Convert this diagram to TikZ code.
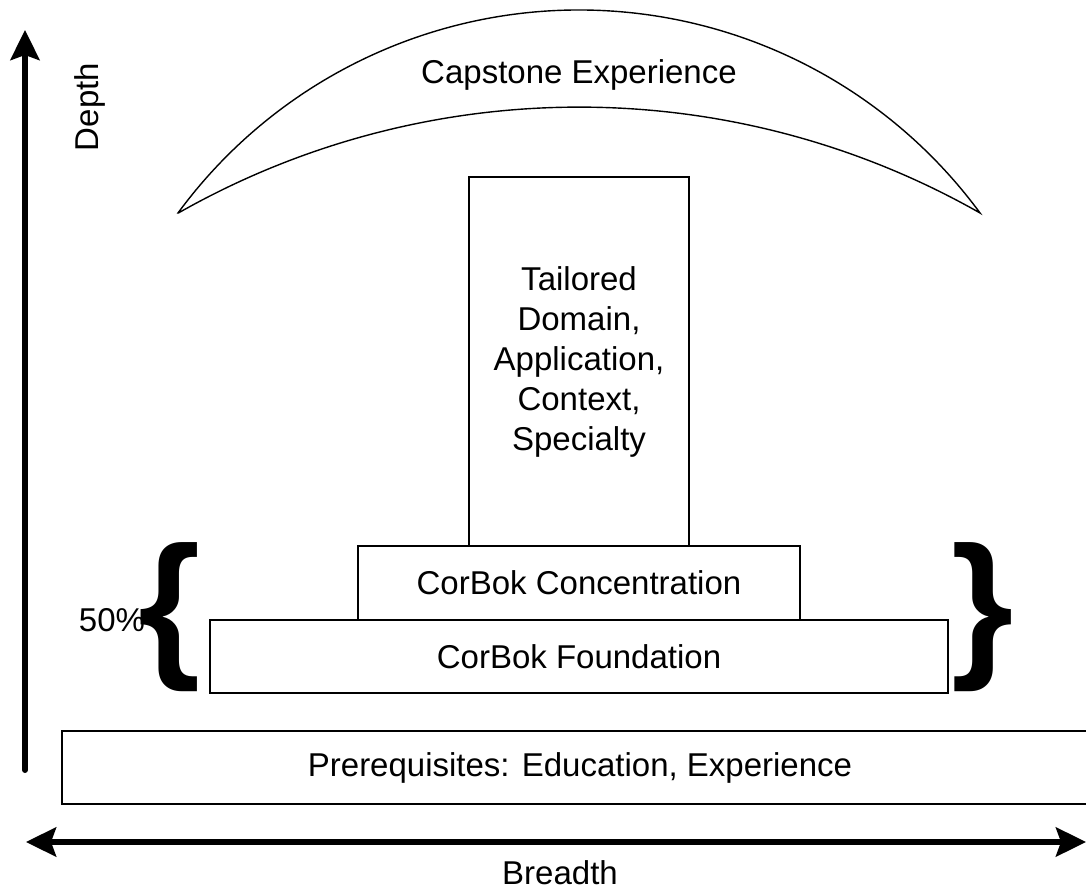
\documentclass[tikz,border=0pt]{standalone}
\usepackage{fontspec}
\setmainfont{Liberation Sans}
\usetikzlibrary{arrows.meta}
\begin{document}
\begin{tikzpicture}[x=1pt,y=1pt,
  every node/.style={font=\fontsize{33}{40}\selectfont},
  layer/.style={draw=black, line width=1.4pt, inner sep=0pt, align=center},
  axis/.style={line width=6pt, -{Stealth[length=30pt,width=29pt,inset=5pt]}},
  biaxis/.style={line width=6pt, {Stealth[length=30pt,width=29pt,inset=5pt]}-{Stealth[length=30pt,width=29pt,inset=5pt]}},
  bracket/.style={inner sep=0pt, font=\fontsize{160}{160}\selectfont\bfseries}]
\useasboundingbox (0,0) rectangle (1086,889);

% Capstone crescent
\draw[line width=1.4pt] (178,676) arc[start angle=143.7, end angle=36.3, radius=497.6]
  arc[start angle=60.4, end angle=119.6, radius=811.5] -- cycle;
\node (capstone) at (579,814) {Capstone Experience};

% Stacked layers
\node[layer, minimum width=220pt, minimum height=369pt] (tailored) at (579,527.5)
  {Tailored\\Domain,\\Application,\\Context,\\Specialty};
\node[layer, minimum width=442pt, minimum height=74pt] (conc) at (579,306) {CorBok Concentration};
\node[layer, minimum width=738pt, minimum height=73pt] (found) at (579,232.5) {CorBok Foundation};
\node[layer, minimum width=1036pt, minimum height=73pt] (prereq) at (580,121.5) {Prerequisites: Education, Experience};

% Braces around the CorBok layers
\node[bracket] (lbrace) at (170,272) {\{};
\node[bracket] (rbrace) at (983,272) {\}};
\node (pct) at (112,269) {50\%};

% Axes
\coordinate (dlow) at (25,119);
\coordinate (dhigh) at (25,859);
\draw[axis, line cap=round] (dlow) -- (dhigh);
\node[rotate=90] (depth) at (90,782) {Depth};

\coordinate (bleft) at (26,47);
\coordinate (bright) at (1086,47);
\draw[biaxis] (bleft) -- (bright);
\node[anchor=base] (breadth) at (560,5) {Breadth};
\end{tikzpicture}
\end{document}
